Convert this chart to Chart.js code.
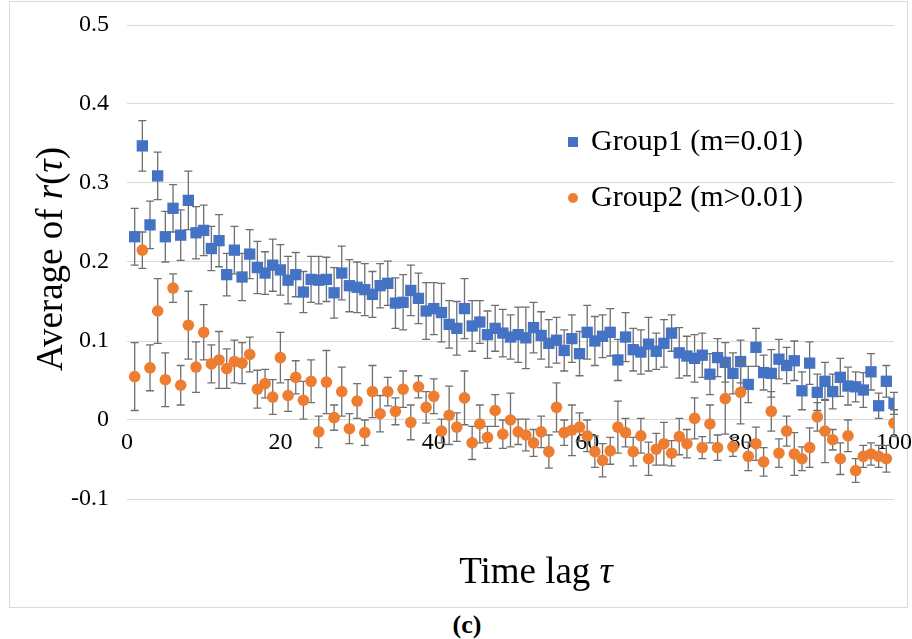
<!DOCTYPE html>
<html>
<head>
<meta charset="utf-8">
<script src="https://cdn.jsdelivr.net/npm/chart.js@4.4.1/dist/chart.umd.min.js"></script>
<style>
  body { margin: 0; background: #fff; }
  #frame { position: absolute; left: 9px; top: 1px; width: 897px; height: 605px; border: 1px solid #d9d9d9; }
  #wrap { position: absolute; left: 0; top: 0; width: 912px; height: 610px; }
  #caption { position: absolute; left: 417px; top: 610px; width: 100px; text-align: center;
             font: bold 26px "Liberation Serif", "Times New Roman", serif; color: #000; }
</style>
</head>
<body>
<div id="frame"></div>
<div id="wrap"><canvas id="lagChart" width="912" height="610"></canvas></div>
<div id="caption">(c)</div>

<script>
// time lags (x)
const lags = [1,2,3,4,5,6,7,8,9,10,11,12,13,14,15,16,17,18,19,20,
  21,22,23,24,25,26,27,28,29,30,31,32,33,34,35,36,37,38,39,40,
  41,42,43,44,45,46,47,48,49,50,51,52,53,54,55,56,57,58,59,60,
  61,62,63,64,65,66,67,68,69,70,71,72,73,74,75,76,77,78,79,80,
  81,82,83,84,85,86,87,88,89,90,91,92,93,94,95,96,97,98,99,100];

// Group1 (m=0.01): mean r(tau) and error
const group1Mean = [0.232,0.347,0.247,0.309,0.232,0.268,0.234,0.278,0.237,0.240,
  0.217,0.227,0.184,0.215,0.181,0.210,0.193,0.186,0.196,0.190,
  0.177,0.184,0.162,0.178,0.177,0.178,0.161,0.186,0.170,0.168,
  0.165,0.159,0.170,0.173,0.148,0.149,0.164,0.154,0.138,0.141,
  0.136,0.121,0.116,0.141,0.119,0.124,0.108,0.116,0.110,0.105,
  0.108,0.104,0.117,0.107,0.097,0.101,0.088,0.103,0.084,0.111,
  0.100,0.106,0.111,0.076,0.105,0.089,0.086,0.096,0.087,0.097,
  0.110,0.085,0.081,0.078,0.082,0.058,0.079,0.073,0.059,0.074,
  0.045,0.092,0.060,0.059,0.077,0.069,0.075,0.037,0.072,0.035,
  0.049,0.036,0.054,0.043,0.042,0.038,0.061,0.018,0.049,0.021];
const group1Err = [0.036,0.032,0.030,0.030,0.032,0.030,0.032,0.037,0.033,0.032,
  0.028,0.033,0.027,0.030,0.030,0.031,0.033,0.027,0.033,0.032,
  0.030,0.028,0.026,0.029,0.030,0.028,0.032,0.034,0.033,0.032,
  0.033,0.029,0.028,0.028,0.032,0.035,0.032,0.032,0.036,0.033,
  0.037,0.030,0.034,0.038,0.032,0.027,0.030,0.029,0.030,0.028,
  0.035,0.039,0.032,0.030,0.030,0.029,0.026,0.030,0.028,0.034,
  0.031,0.027,0.030,0.026,0.031,0.027,0.028,0.034,0.023,0.030,
  0.023,0.032,0.025,0.030,0.028,0.026,0.024,0.025,0.026,0.027,
  0.023,0.024,0.022,0.030,0.025,0.023,0.025,0.024,0.027,0.023,
  0.024,0.022,0.024,0.024,0.019,0.022,0.023,0.016,0.020,0.014];

// Group2 (m>0.01): mean r(tau) and error
const group2Mean = [0.055,0.215,0.066,0.138,0.051,0.167,0.044,0.120,0.067,0.111,
  0.071,0.076,0.065,0.074,0.072,0.083,0.039,0.046,0.029,0.079,
  0.031,0.054,0.025,0.049,-0.015,0.048,0.003,0.036,-0.011,0.024,
  -0.016,0.036,0.008,0.036,0.011,0.039,-0.003,0.042,0.016,0.030,
  -0.014,0.006,-0.009,0.028,-0.029,-0.005,-0.022,0.012,-0.018,0.000,
  -0.015,-0.019,-0.029,-0.015,-0.040,0.016,-0.016,-0.013,-0.009,-0.020,
  -0.040,-0.051,-0.039,-0.009,-0.016,-0.040,-0.020,-0.049,-0.037,-0.030,
  -0.042,-0.021,-0.030,0.002,-0.035,-0.005,-0.035,0.027,-0.034,0.035,
  -0.046,-0.030,-0.053,0.011,-0.042,-0.014,-0.043,-0.049,-0.035,0.004,
  -0.014,-0.025,-0.049,-0.020,-0.064,-0.046,-0.043,-0.046,-0.049,-0.004];
const group2Err = [0.043,0.023,0.029,0.041,0.034,0.018,0.025,0.043,0.032,0.035,
  0.024,0.036,0.025,0.027,0.026,0.022,0.024,0.018,0.022,0.032,
  0.020,0.021,0.024,0.027,0.020,0.040,0.016,0.031,0.019,0.022,
  0.016,0.033,0.023,0.018,0.017,0.023,0.022,0.014,0.020,0.022,
  0.015,0.037,0.018,0.034,0.021,0.024,0.014,0.020,0.018,0.034,
  0.016,0.020,0.017,0.020,0.021,0.031,0.016,0.032,0.018,0.020,
  0.020,0.021,0.017,0.033,0.018,0.018,0.022,0.021,0.020,0.027,
  0.016,0.023,0.018,0.026,0.014,0.024,0.016,0.045,0.012,0.040,
  0.018,0.021,0.018,0.025,0.018,0.019,0.027,0.015,0.025,0.018,
  0.040,0.013,0.020,0.020,0.015,0.014,0.014,0.014,0.017,0.017];

const seriesNames = ['Group1 (m=0.01)', 'Group2 (m>0.01)'];
const yTicks = [-0.1, 0, 0.1, 0.2, 0.3, 0.4, 0.5];

const SERIF = '"Liberation Serif", "Times New Roman", serif';
const BLUE = '#4472C4';
const ORANGE = '#ED7D31';

// plot box in canvas pixels
const PLOT = { left: 127, top: 25, right: 894, bottom: 499 };

// pin the plot area so the axes line up with the frame layout
const pinArea = {
  id: 'pinArea',
  afterLayout(chart) {
    const a = chart.chartArea;
    Object.assign(a, PLOT);
    a.width = PLOT.right - PLOT.left;
    a.height = PLOT.bottom - PLOT.top;
    const y = chart.scales.y;
    y.top = PLOT.top; y.bottom = PLOT.bottom; y.height = a.height;
    y.configure();
    const x = chart.scales.x;
    x.left = PLOT.left; x.right = PLOT.right; x.width = a.width;
    x.configure();
  }
};

// vertical error bars with caps, drawn just before each dataset's markers
const errorBars = {
  id: 'errorBars',
  beforeDatasetDraw(chart, args) {
    const ds = chart.data.datasets[args.index];
    if (!ds.errors) return;
    const y = chart.scales.y;
    const c = chart.ctx;
    c.save();
    c.strokeStyle = '#6f6f6f';
    c.lineWidth = 1.3;
    args.meta.data.forEach((pt, i) => {
      const v = ds.data[i].y, e = ds.errors[i];
      const top = y.getPixelForValue(v + e);
      const bot = y.getPixelForValue(v - e);
      c.beginPath();
      c.moveTo(pt.x, top); c.lineTo(pt.x, bot);
      c.moveTo(pt.x - 4, top); c.lineTo(pt.x + 4, top);
      c.moveTo(pt.x - 4, bot); c.lineTo(pt.x + 4, bot);
      c.stroke();
    });
    c.restore();
  }
};

// draws a list of [text, italic] runs centred on (0,0)
function drawRuns(c, runs, size) {
  const fonts = runs.map(r => (r[1] ? 'italic ' : '') + size + 'px ' + SERIF);
  let total = 0;
  const widths = runs.map((r, i) => { c.font = fonts[i]; const w = c.measureText(r[0]).width; total += w; return w; });
  let x = -total / 2;
  c.textBaseline = 'middle';
  c.textAlign = 'left';
  runs.forEach((r, i) => { c.font = fonts[i]; c.fillText(r[0], x, 0); x += widths[i]; });
}

const titlesAndLegend = {
  id: 'titlesAndLegend',
  afterDraw(chart) {
    const c = chart.ctx;
    c.save();
    c.fillStyle = '#000';

    c.save();
    c.translate(536, 573);
    drawRuns(c, [['Time lag ', false], ['\u03C4', true]], 37);
    c.restore();

    c.save();
    c.translate(52, 259);
    c.rotate(-Math.PI / 2);
    drawRuns(c, [['Average of ', false], ['r', true], ['(', false], ['\u03C4', true], [')', false]], 37);
    c.restore();

    // legend
    const rows = [142, 198];
    c.fillStyle = BLUE;
    c.fillRect(568, rows[0] - 5, 10, 10);
    c.fillStyle = ORANGE;
    c.beginPath(); c.arc(573, rows[1], 5, 0, Math.PI * 2); c.fill();
    c.fillStyle = '#000';
    c.font = '30px ' + SERIF;
    c.textBaseline = 'middle';
    c.textAlign = 'left';
    c.fillText(seriesNames[0], 591, rows[0]);
    c.fillText(seriesNames[1], 591, rows[1]);
    c.restore();
  }
};

const ctx = document.getElementById('lagChart').getContext('2d');
new Chart(ctx, {
  type: 'scatter',
  data: {
    datasets: [
      {
        label: seriesNames[0],
        data: lags.map((t, i) => ({ x: t, y: group1Mean[i] })),
        errors: group1Err,
        pointStyle: 'rect',
        pointRadius: 8,
        pointHoverRadius: 8,
        backgroundColor: BLUE,
        borderWidth: 0,
        order: 1
      },
      {
        label: seriesNames[1],
        data: lags.map((t, i) => ({ x: t, y: group2Mean[i] })),
        errors: group2Err,
        pointStyle: 'circle',
        pointRadius: 5.8,
        pointHoverRadius: 5.8,
        backgroundColor: ORANGE,
        borderWidth: 0,
        order: 0
      }
    ]
  },
  options: {
    responsive: false,
    animation: false,
    devicePixelRatio: 1,
    layout: { padding: { left: 0, top: 25, right: 18, bottom: 111 } },
    plugins: { legend: { display: false }, tooltip: { enabled: false } },
    scales: {
      x: {
        type: 'linear',
        min: 0, max: 100,
        position: { y: 0 },
        grid: { display: false },
        border: { display: false },
        ticks: { stepSize: 20, color: '#000', padding: 0, maxRotation: 0,
                 font: { family: SERIF, size: 24 } }
      },
      y: {
        min: -0.1, max: 0.5,
        afterFit: s => { s.width = 127; },
        afterBuildTicks: s => { s.ticks = yTicks.map(v => ({ value: v })); },
        grid: { color: '#d9d9d9', lineWidth: 1, drawTicks: false },
        border: { display: false },
        ticks: { color: '#000', padding: 18, font: { family: SERIF, size: 24 },
                 callback: v => (Math.abs(v) < 1e-9 ? '0' : v.toFixed(1)) }
      }
    }
  },
  plugins: [pinArea, errorBars, titlesAndLegend]
});
</script>
</body>
</html>
